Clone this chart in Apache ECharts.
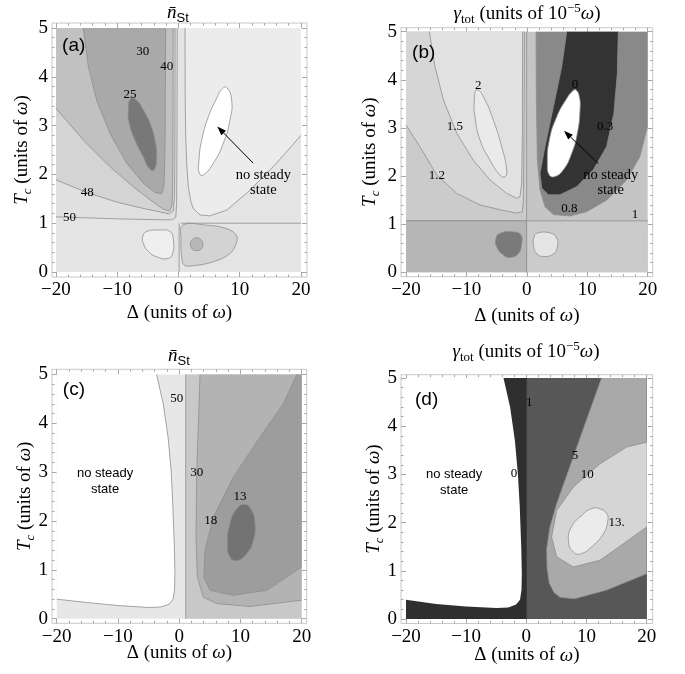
<!DOCTYPE html>
<html><head><meta charset="utf-8">
<script src="https://cdn.jsdelivr.net/npm/echarts@6/dist/echarts.min.js"></script>
<style>html,body{margin:0;padding:0;background:#fff}#c{width:685px;height:674px}</style>
</head><body><div id="c"></div>
<script>
// ---------- tick values ----------
const xMajor = [-20, -10, 0, 10, 20];
const xMinor = [-18,-16,-14,-12,-8,-6,-4,-2,2,4,6,8,12,14,16,18];
const yMajor = [0, 1, 2, 3, 4, 5];
const yMinor = [0.2,0.4,0.6,0.8,1.2,1.4,1.6,1.8,2.2,2.4,2.6,2.8,3.2,3.4,3.6,3.8,4.2,4.4,4.6,4.8];

// ---------- plot domain ----------
const box = [[-20,0],[20,0],[20,5],[-20,5]];

// ---------- panel (a): n_St contour regions (Δ, T_c) ----------
const a_ucup = [[1.06,5],[1.1,3.5],[1.17,2.84],[1.35,2.2],[1.6,1.75],[2.0,1.45],[2.42,1.3],[3.5,1.17],[5.1,1.15],[7.9,1.27],[11.7,1.68],[16.0,2.23],[20,2.8],[20,5]];
const a_n50 = [[-20,5],[-20,1.13],[-10,1.09],[-3,1.07],[-1,1.07],[-0.45,1.12],[-0.3,1.4],[-0.25,2.5],[-0.2,5]];
const a_n48 = [[-20,5],[-20,1.89],[-15,1.63],[-10,1.43],[-6,1.31],[-3,1.23],[-1.5,1.19],[-0.85,1.25],[-0.65,1.55],[-0.58,2.5],[-0.55,5]];
const a_n40 = [[-20,5],[-20,3.35],[-15.5,2.7],[-11.2,2.16],[-7.4,1.75],[-4.65,1.48],[-2.5,1.29],[-1.5,1.25],[-1.05,1.36],[-0.95,1.8],[-0.9,2.8],[-0.88,5]];
const a_n30 = [[-15.54,5],[-14.72,4.21],[-13.36,3.52],[-11.18,2.84],[-8.46,2.23],[-5.74,1.82],[-3.84,1.63],[-2.75,1.6],[-2.37,1.75],[-2.2,2.5],[-2.15,3.52],[-2.1,5]];
const a_n25 = [[-7.81,3.55],[-6.83,3.52],[-5.74,3.32],[-4.65,3.05],[-3.84,2.7],[-3.56,2.36],[-4.0,2.09],[-4.76,2.12],[-5.74,2.36],[-7.1,2.7],[-8.03,3.05],[-8.19,3.32]];
const a_nss = [[7.86,3.78],[8.68,3.52],[8.4,3.11],[7.32,2.64],[5.69,2.23],[4.05,1.99],[3.4,2.02],[3.35,2.3],[3.78,2.7],[4.87,3.18],[6.23,3.56],[7.04,3.74]];
const a_lowL = [[-5.2,0.83],[-3.0,0.86],[-1.39,0.83],[-0.84,0.66],[-0.95,0.38],[-1.66,0.28],[-3.3,0.3],[-4.9,0.42],[-5.74,0.59],[-5.85,0.72]];
const a_lowR = [[0.68,0.96],[4.6,0.96],[7.86,0.89],[9.4,0.76],[9.5,0.62],[8.4,0.38],[5.69,0.21],[2.42,0.13],[0.95,0.14],[0.52,0.31],[0.41,0.66]];
const a_lowC = [[2.97,0.70],[3.7,0.66],[3.97,0.57],[3.7,0.47],[2.97,0.44],[2.25,0.47],[1.97,0.57],[2.25,0.66]];
const a_lines = [[[0.4,1.0],[20,1.0]], [[0.1,0],[0.1,1.0]]];
const a_labels = [[-5.85,4.52,'30'],[-1.93,4.21,'40'],[-7.9,3.63,'25'],[-14.9,1.63,'48'],[-17.8,1.12,'50']];
const a_note = [[13.85,1.84,'no steady\nstate']];
const a_arrow = [[12.2,2.23],[6.34,2.98]];
const a_tag = [[-19.0,4.63,'(a)']];

// ---------- panel (b): gamma_tot ----------
const b_left = [[-20,1.07],[-0.03,1.07],[-0.03,5],[-20,5]];
const b_g12 = [[-20,5],[-20,3.06],[-17.7,2.61],[-14.9,2.02],[-11.6,1.64],[-7.75,1.4],[-4.44,1.3],[-1.68,1.23],[-0.75,1.26],[-0.58,1.5],[-0.47,2.89],[-0.41,5]];
const b_g15 = [[-16.14,5],[-15.2,4.27],[-13.8,3.58],[-11.6,2.89],[-8.86,2.33],[-6.1,1.92],[-3.34,1.64],[-1.68,1.54],[-1.13,1.57],[-0.86,1.85],[-0.74,2.89],[-0.69,5]];
const b_g2 = [[-8.3,3.79],[-7.2,3.65],[-5.54,3.16],[-4.17,2.61],[-3.34,2.13],[-3.6,1.99],[-4.44,2.02],[-6.1,2.33],[-7.75,2.75],[-8.58,3.23],[-8.69,3.58]];
const b_g08 = [[1.52,5],[1.57,3.58],[1.74,2.33],[2.18,1.71],[3.0,1.36],[4.39,1.2],[7.14,1.17],[9.9,1.26],[13.21,1.5],[16.52,1.92],[18.7,2.4],[20,3.04],[20,5]];
const b_g03 = [[6.59,5],[5.77,4.27],[4.39,3.44],[3.0,2.61],[2.18,2.06],[2.46,1.75],[3.56,1.61],[5.49,1.61],[8.25,1.78],[11.0,2.13],[13.2,2.61],[14.4,3.3],[14.98,4.13],[15.14,5]];
const b_nss = [[8.14,3.79],[8.69,3.65],[8.8,3.37],[8.36,2.89],[7.42,2.47],[6.04,2.13],[4.66,1.99],[3.72,2.02],[3.39,2.26],[3.72,2.75],[4.94,3.23],[6.59,3.61],[7.59,3.77]];
const b_lowL = [[-20,0],[-0.03,0],[-0.03,1.07],[-20,1.07]];
const b_lowR = [[-0.03,0],[20,0],[20,1.07],[-0.03,1.07]];
const b_blobL = [[-4.44,0.81],[-2.23,0.84],[-1.02,0.78],[-0.86,0.6],[-1.41,0.39],[-2.79,0.31],[-3.89,0.36],[-4.99,0.53],[-5.1,0.71]];
const b_blobR = [[1.63,0.81],[3.83,0.82],[4.94,0.71],[5.05,0.53],[4.39,0.38],[2.73,0.33],[1.63,0.39],[1.08,0.57],[1.19,0.73]];
const b_labels = [[-8.03,3.89,'2'],[-11.9,3.03,'1.5'],[-14.9,2.02,'1.2'],[7.97,3.91,'0'],[12.94,3.03,'0.3'],[7.03,1.33,'0.8'],[17.9,1.19,'1']];
const b_note = [[13.88,1.86,'no steady\nstate']];
const b_arrow = [[11.83,2.26],[6.15,2.94]];
const b_tag = [[-19.0,4.56,'(b)']];

// ---------- panel (c): n_St ----------
const c_nss = [[-20,5],[-3.7,5],[-2.6,4.4],[-1.8,3.7],[-1.3,3.0],[-1.05,2.35],[-0.8,1.5],[-0.7,0.95],[-0.75,0.6],[-1.0,0.4],[-1.6,0.3],[-3,0.24],[-5,0.23],[-10,0.27],[-15,0.33],[-20,0.40]];
const c_right = [[1.06,0],[20,0],[20,5],[1.06,5]];
const c_n30 = [[3.4,5],[2.86,3.0],[2.75,1.67],[2.97,0.85],[3.95,0.44],[6.12,0.31],[11.56,0.25],[20,0.38],[20,5]];
const c_n18 = [[19.2,5],[17,4.4],[13.2,3.72],[8.84,2.9],[5.58,2.08],[4.2,1.4],[4.05,0.85],[5.03,0.58],[8.84,0.48],[14.3,0.58],[20,1.06],[20,5]];
const c_n13 = [[10.75,2.34],[11.84,2.22],[12.38,1.95],[12.11,1.6],[11.02,1.33],[9.39,1.19],[8.3,1.26],[7.86,1.54],[8.3,1.95],[9.39,2.25]];
const c_labels = [[-0.41,4.5,'50'],[2.86,3.0,'30'],[5.14,2.01,'18'],[9.93,2.5,'13']];
const c_note = [[-12.1,2.82,'no steady\nstate']];
const c_tag = [[-19.0,4.69,'(c)']];

// ---------- panel (d): gamma_tot ----------
const d_nss = [[-20,5],[-3.8,5],[-2.7,4.4],[-1.9,3.7],[-1.4,3.0],[-1.1,2.35],[-0.85,1.5],[-0.75,0.95],[-0.8,0.6],[-1.05,0.4],[-1.7,0.3],[-3,0.24],[-5,0.23],[-10,0.26],[-15,0.31],[-20,0.40]];
const d_right = [[0.06,0],[20,0],[20,5],[0.06,5]];
const d_g5 = [[12.5,5],[10.2,4.2],[7.8,3.36],[5.04,2.39],[3.9,1.9],[3.38,1.45],[3.45,1.05],[3.8,0.75],[4.6,0.55],[5.6,0.45],[8.0,0.42],[13.35,0.6],[20,0.94],[20,5]];
const d_g10 = [[20,3.67],[16.68,3.57],[12.24,3.22],[7.81,2.74],[5.04,2.25],[4.2,1.7],[5.04,1.29],[7.81,1.08],[12.24,1.22],[16.1,1.56],[20,1.91]];
const d_g13 = [[12.13,2.29],[13.35,2.19],[13.5,2.01],[12.8,1.77],[11.13,1.53],[9.2,1.36],[7.8,1.39],[7.0,1.63],[7.5,1.91],[9.2,2.15],[10.85,2.29]];
const d_labels = [[0.5,4.5,'1'],[-2.05,3.02,'0'],[8.09,3.4,'5'],[10.14,3.0,'10'],[15.0,2.01,'13.']];
const d_note = [[-12.0,2.84,'no steady\nstate']];
const d_tag = [[-18.5,4.54,'(d)']];

// ---------- layout / style ----------
const SERIF = '"Liberation Serif", "DejaVu Serif", serif';
const SANS = '"Liberation Sans", Arial, sans-serif';
const LINE = '#8e8e8e';
const TICK = '#a8a8a8';
const layout = [
  {left:52,  top:23,    width:255,   height:254,   xr:[-20.65,20.98], yr:[-0.102,5.102], xGap:24, yGap:18},
  {left:401, top:27.7,  width:251.7, height:249,   xr:[-20.83,20.83], yr:[-0.091,5.083], xGap:27, yGap:19},
  {left:52,  top:369.3, width:254.7, height:254,   xr:[-20.77,20.82], yr:[-0.094,5.106], xGap:18, yGap:15},
  {left:401, top:374.7, width:251.7, height:248.8, xr:[-20.83,21.0],  yr:[-0.093,5.07],  xGap:20, yGap:15}
];

const fmt = v => (v < 0 ? '\u2212' + Math.abs(v) : String(v));
const nameRich = {
  n: {fontFamily: SERIF, fontSize: 19, lineHeight: 24, fontWeight: 'normal', color: '#000'},
  i: {fontFamily: SERIF, fontSize: 19, lineHeight: 24, fontStyle: 'italic', fontWeight: 'normal', color: '#000'},
  sub: {fontFamily: SERIF, fontSize: 13, lineHeight: 12, fontStyle: 'italic', fontWeight: 'normal', verticalAlign: 'bottom', color: '#000'}
};
const xName = '{n|\u0394 (units of }{i|\u03c9}{n|)}';
const yName = '{i|T}{sub|c}{n| (units of }{i|\u03c9}{n|)}';

const grids = [], xAxes = [], yAxes = [];
layout.forEach((L, i) => {
  grids.push({left: L.left, top: L.top, width: L.width, height: L.height, show: true,
    borderColor: '#c8c8c8', borderWidth: 1, backgroundColor: '#fff', containLabel: false, outerBoundsMode: 'none'});
  const cx = {type: 'value', gridIndex: i, min: L.xr[0], max: L.xr[1], splitLine: {show: false},
    axisLine: {show: false, onZero: false}, nameMoveOverlap: false};
  const cy = {type: 'value', gridIndex: i, min: L.yr[0], max: L.yr[1], splitLine: {show: false},
    axisLine: {show: false, onZero: false}, nameMoveOverlap: false};
  const tick = (vals, len) => ({show: true, inside: true, length: len, customValues: vals, lineStyle: {color: TICK, width: 1}});
  xAxes.push(Object.assign({}, cx, {position: 'bottom', axisTick: tick(xMajor, 5),
    axisLabel: {show: true, customValues: xMajor, formatter: fmt, margin: 4, fontFamily: SERIF, fontSize: 19, color: '#000'},
    name: xName, nameLocation: 'middle', nameGap: L.xGap, nameTextStyle: {fontWeight: 'normal', rich: nameRich}}));
  xAxes.push(Object.assign({}, cx, {position: 'bottom', axisTick: tick(xMinor, 2.5), axisLabel: {show: false}}));
  xAxes.push(Object.assign({}, cx, {position: 'top', axisTick: tick(xMajor, 5), axisLabel: {show: false}}));
  xAxes.push(Object.assign({}, cx, {position: 'top', axisTick: tick(xMinor, 2.5), axisLabel: {show: false}}));
  yAxes.push(Object.assign({}, cy, {position: 'left', axisTick: tick(yMajor, 5),
    axisLabel: {show: true, customValues: yMajor, formatter: fmt, margin: 4, fontFamily: SERIF, fontSize: 19, color: '#000'},
    name: yName, nameLocation: 'middle', nameGap: L.yGap, nameRotate: 90, nameTextStyle: {fontWeight: 'normal', rich: nameRich}}));
  yAxes.push(Object.assign({}, cy, {position: 'left', axisTick: tick(yMinor, 2.5), axisLabel: {show: false}}));
  yAxes.push(Object.assign({}, cy, {position: 'right', axisTick: tick(yMajor, 5), axisLabel: {show: false}}));
  yAxes.push(Object.assign({}, cy, {position: 'right', axisTick: tick(yMinor, 2.5), axisLabel: {show: false}}));
});

// ---------- series helpers ----------
function onBoundary(a, b) {
  return (a[0] === b[0] && (a[0] === -20 || a[0] === 20)) || (a[1] === b[1] && (a[1] === 0 || a[1] === 5));
}
function strokeRuns(pts) {
  const n = pts.length, runs = [];
  let start = 0;
  for (let i = 0; i < n; i++) { if (onBoundary(pts[(i - 1 + n) % n], pts[i])) { start = i; break; } }
  let cur = null;
  for (let k = 0; k < n; k++) {
    const i = (start + k) % n, j = (i + 1) % n;
    if (onBoundary(pts[i], pts[j])) { if (cur) { runs.push(cur); cur = null; } }
    else { if (!cur) cur = [pts[i]]; cur.push(pts[j]); }
  }
  if (cur) runs.push(cur);
  return runs;
}
function region(pi, pts, fill, opt) {
  opt = opt || {};
  const smooth = opt.smooth || 0;
  const stroke = opt.stroke === undefined ? LINE : opt.stroke;
  return {type: 'custom', xAxisIndex: 4 * pi, yAxisIndex: 4 * pi, silent: true, z: 2,
    data: [pts[0]],
    renderItem: (params, api) => {
      const px = pts.map(p => api.coord(p));
      const children = [{type: 'polygon', shape: {points: px, smooth: smooth},
        style: {fill: fill, stroke: (smooth && stroke !== 'none') ? stroke : null, lineWidth: 0.8}}];
      if (!smooth && stroke !== 'none') {
        strokeRuns(pts).forEach(r => children.push({type: 'polyline',
          shape: {points: r.map(p => api.coord(p))}, style: {fill: null, stroke: stroke, lineWidth: 0.8}}));
      }
      return {type: 'group', children: children};
    }};
}
function lines(pi, list) {
  return {type: 'custom', xAxisIndex: 4 * pi, yAxisIndex: 4 * pi, silent: true, z: 3,
    data: [list[0][0]],
    renderItem: (params, api) => ({type: 'group', children: list.map(l => ({type: 'polyline',
      shape: {points: l.map(p => api.coord(p))}, style: {fill: null, stroke: LINE, lineWidth: 0.8}}))})};
}
function texts(pi, items, font, extra) {
  return {type: 'custom', xAxisIndex: 4 * pi, yAxisIndex: 4 * pi, silent: true, z: 5,
    data: items.map(d => [d[0], d[1]]),
    renderItem: (params, api) => {
      const d = items[params.dataIndex];
      const p = api.coord([d[0], d[1]]);
      return {type: 'text', x: p[0], y: p[1], style: Object.assign({text: d[2], fill: '#000', font: font,
        align: 'center', verticalAlign: 'middle', textAlign: 'center', textVerticalAlign: 'middle'}, extra || {})};
    }};
}
function arrow(pi, seg) {
  return {type: 'custom', xAxisIndex: 4 * pi, yAxisIndex: 4 * pi, silent: true, z: 5,
    data: [seg[0]],
    renderItem: (params, api) => {
      const a = api.coord(seg[0]), b = api.coord(seg[1]);
      const ang = Math.atan2(b[1] - a[1], b[0] - a[0]);
      const L = 9, W = 3.3;
      const base = [b[0] - L * Math.cos(ang), b[1] - L * Math.sin(ang)];
      const l = [base[0] + W * Math.sin(ang), base[1] - W * Math.cos(ang)];
      const r = [base[0] - W * Math.sin(ang), base[1] + W * Math.cos(ang)];
      return {type: 'group', children: [
        {type: 'line', shape: {x1: a[0], y1: a[1], x2: base[0], y2: base[1]}, style: {stroke: '#000', lineWidth: 1}},
        {type: 'polygon', shape: {points: [b, l, r]}, style: {fill: '#000'}}]};
    }};
}

const LBL = '13px ' + SERIF;
const NOTE_SERIF = '14.5px ' + SERIF;
const NOTE_SANS = '13px ' + SANS;
const TAG = '19px ' + SANS;

const series = [
  // (a)
  region(0, box, '#e4e4e4', {stroke: 'none'}),
  region(0, a_ucup, '#ececec'),
  region(0, a_n50, '#e0e0e0'),
  region(0, a_n48, '#d4d4d4'),
  region(0, a_n40, '#c1c1c1'),
  region(0, a_n30, '#a9a9a9'),
  region(0, a_n25, '#787878', {smooth: 0.5}),
  region(0, a_nss, '#ffffff', {smooth: 0.5}),
  region(0, a_lowL, '#efefef', {smooth: 0.5}),
  region(0, a_lowR, '#d3d3d3', {smooth: 0.4}),
  region(0, a_lowC, '#b8b8b8', {smooth: 0.5}),
  lines(0, a_lines),
  texts(0, a_labels, LBL),
  texts(0, a_note, NOTE_SERIF, {lineHeight: 15}),
  arrow(0, a_arrow),
  texts(0, a_tag, TAG, {align: 'left', textAlign: 'left'}),
  // (b)
  region(1, box, '#c5c5c5', {stroke: 'none'}),
  region(1, b_left, '#cbcbcb'),
  region(1, b_g12, '#d6d6d6'),
  region(1, b_g15, '#e1e1e1'),
  region(1, b_g2, '#eaeaea', {smooth: 0.5}),
  region(1, b_g08, '#898989'),
  region(1, b_g03, '#333333'),
  region(1, b_nss, '#ffffff', {smooth: 0.5}),
  region(1, b_lowL, '#b6b6b6'),
  region(1, b_lowR, '#cbcbcb'),
  region(1, b_blobL, '#7a7a7a', {smooth: 0.5}),
  region(1, b_blobR, '#e5e5e5', {smooth: 0.5}),
  texts(1, b_labels, LBL),
  texts(1, b_note, NOTE_SERIF, {lineHeight: 15}),
  arrow(1, b_arrow),
  texts(1, b_tag, TAG, {align: 'left', textAlign: 'left'}),
  // (c)
  region(2, box, '#e7e7e7', {stroke: 'none'}),
  region(2, c_nss, '#ffffff'),
  region(2, c_right, '#c8c8c8'),
  region(2, c_n30, '#b3b3b3'),
  region(2, c_n18, '#9d9d9d'),
  region(2, c_n13, '#737373', {smooth: 0.5}),
  texts(2, c_labels, LBL),
  texts(2, c_note, NOTE_SANS, {lineHeight: 16}),
  texts(2, c_tag, TAG, {align: 'left', textAlign: 'left'}),
  // (d)
  region(3, box, '#2f2f2f', {stroke: 'none'}),
  region(3, d_nss, '#ffffff', {stroke: 'none'}),
  region(3, d_right, '#575757', {stroke: 'none'}),
  region(3, d_g5, '#a9a9a9'),
  region(3, d_g10, '#d5d5d5'),
  region(3, d_g13, '#ebebeb', {smooth: 0.5}),
  texts(3, d_labels, LBL),
  texts(3, d_note, NOTE_SANS, {lineHeight: 16}),
  texts(3, d_tag, TAG, {align: 'left', textAlign: 'left'})
];

const titleRich = {
  i: {fontFamily: SERIF, fontSize: 19, lineHeight: 24, fontStyle: 'italic', fontWeight: 'normal', color: '#000'},
  n: {fontFamily: SERIF, fontSize: 19, lineHeight: 24, fontWeight: 'normal', color: '#000'},
  st: {fontFamily: SANS, fontSize: 13, lineHeight: 12, fontWeight: 'normal', verticalAlign: 'bottom', color: '#000'},
  sub: {fontFamily: SERIF, fontSize: 13, lineHeight: 12, fontWeight: 'normal', verticalAlign: 'bottom', color: '#000'},
  sup: {fontFamily: SERIF, fontSize: 13, lineHeight: 12, fontWeight: 'normal', verticalAlign: 'top', color: '#000'}
};
const tN = '{i|n\u0304}{st|St}';
const tG = '{i|\u03b3}{sub|tot}{n| (units of 10}{sup|\u22125}{i|\u03c9}{n|)}';
const tStyle = {fontWeight: 'normal', rich: titleRich};
const titles = [
  {text: tN, left: 178, top: 1, textAlign: 'center', padding: 0, textStyle: tStyle},
  {text: tG, left: 527, top: 2, textAlign: 'center', padding: 0, textStyle: tStyle},
  {text: tN, left: 179, top: 344, textAlign: 'center', padding: 0, textStyle: tStyle},
  {text: tG, left: 526, top: 340, textAlign: 'center', padding: 0, textStyle: tStyle}
];

const chart = echarts.init(document.getElementById('c'), null, {renderer: 'canvas'});
chart.setOption({animation: false, backgroundColor: '#fff', title: titles, grid: grids,
  xAxis: xAxes, yAxis: yAxes, series: series});
</script></body></html>
